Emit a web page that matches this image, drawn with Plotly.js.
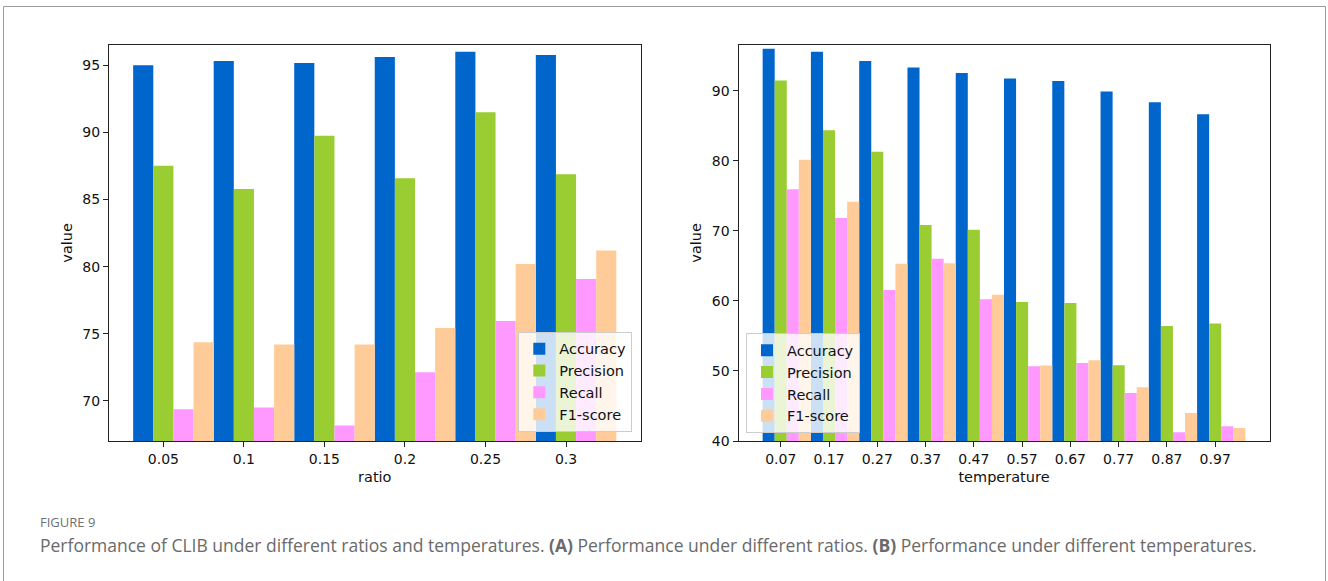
<!DOCTYPE html>
<html><head><meta charset="utf-8">
<script src="https://cdn.plot.ly/plotly-3.0.1.min.js"></script>
<style>html,body{margin:0;padding:0;background:#fff;overflow:hidden}#chart{width:1328px;height:581px}</style>
</head><body><div id="chart"></div>
<script>
// ---- data: panel A (ratio) ----
const ratios = ['0.05', '0.1', '0.15', '0.2', '0.25', '0.3'];
const ratioAccuracy = [95.0, 95.32, 95.17, 95.62, 96.02, 95.77];
const ratioPrecision = [87.51, 85.79, 89.75, 86.59, 91.51, 86.89];
const ratioRecall = [69.37, 69.5, 68.15, 72.12, 75.95, 79.07];
const ratioF1 = [74.37, 74.2, 74.2, 75.42, 80.2, 81.2];

// ---- data: panel B (temperature) ----
const temperatures = ['0.07', '0.17', '0.27', '0.37', '0.47', '0.57', '0.67', '0.77', '0.87', '0.97'];
const tempAccuracy = [95.99, 95.56, 94.23, 93.33, 92.52, 91.76, 91.38, 89.9, 88.34, 86.63];
const tempPrecision = [91.47, 84.35, 81.29, 70.83, 70.14, 59.83, 59.69, 50.81, 56.4, 56.76];
const tempRecall = [75.95, 71.83, 61.55, 66.0, 60.24, 50.68, 51.12, 46.86, 41.24, 42.1];
const tempF1 = [80.14, 74.14, 65.3, 65.38, 60.86, 50.76, 51.52, 47.67, 44.0, 41.86];

const seriesNames = ['Accuracy', 'Precision', 'Recall', 'F1-score'];
const seriesColors = ['#0066cc', '#9acd32', '#ff99ff', '#ffcc99'];
const barWidth = 0.25;
const barOffsets = [-0.375, -0.125, 0.125, 0.375];

const W = 1328, H = 581;
const px = v => v / W;
const py = v => 1 - v / H;
const FONT = 'DejaVu Sans, sans-serif';

function makeTraces(cats, seriesList, xa, ya, legendId) {
  return seriesList.map((vals, i) => ({
    type: 'bar',
    x: cats,
    y: vals,
    name: seriesNames[i],
    xaxis: xa,
    yaxis: ya,
    legend: legendId,
    width: barWidth,
    offset: barOffsets[i],
    marker: {color: seriesColors[i], line: {width: 0}},
    hoverinfo: 'x+y+name'
  }));
}

const traces = [
  ...makeTraces(ratios, [ratioAccuracy, ratioPrecision, ratioRecall, ratioF1], 'x', 'y', 'legend'),
  ...makeTraces(temperatures, [tempAccuracy, tempPrecision, tempRecall, tempF1], 'x2', 'y2', 'legend2')
];

const axisCommon = {
  showgrid: false, zeroline: false,
  showline: true, linecolor: '#222', linewidth: 1, mirror: true,
  ticks: 'outside', ticklen: 5, tickcolor: '#222', tickwidth: 1,
  tickfont: {family: FONT, size: 14, color: '#111'},
  automargin: false
};

const legendCommon = {
  bgcolor: 'rgba(255,255,255,0.8)', bordercolor: '#cccccc', borderwidth: 1,
  font: {family: FONT, size: 14.5, color: '#111'},
  itemwidth: 30, traceorder: 'normal', tracegroupgap: 0
};

const layout = {
  width: W, height: H,
  margin: {l: 0, r: 0, t: 0, b: 0},
  paper_bgcolor: '#fff', plot_bgcolor: '#fff',
  barmode: 'overlay',
  xaxis: Object.assign({}, axisCommon, {
    type: 'category', domain: [px(109), px(640.5)], range: [-0.675, 5.925], anchor: 'y',
    title: {text: 'ratio', font: {family: FONT, size: 14.5, color: '#111'}, standoff: 6}
  }),
  yaxis: Object.assign({}, axisCommon, {
    domain: [py(441), py(44.7)], range: [67, 96.54], anchor: 'x',
    tickvals: [70, 75, 80, 85, 90, 95],
    title: {text: 'value', font: {family: FONT, size: 14.5, color: '#111'}, standoff: 6}
  }),
  xaxis2: Object.assign({}, axisCommon, {
    type: 'category', domain: [px(738.5), px(1269.5)], range: [-0.875, 10.125], anchor: 'y2',
    title: {text: 'temperature', font: {family: FONT, size: 14.5, color: '#111'}, standoff: 6}
  }),
  yaxis2: Object.assign({}, axisCommon, {
    domain: [py(441), py(44.7)], range: [40, 96.57], anchor: 'x2',
    tickvals: [40, 50, 60, 70, 80, 90],
    title: {text: 'value', font: {family: FONT, size: 14.5, color: '#111'}, standoff: 6}
  }),
  legend: Object.assign({}, legendCommon, {x: px(632.3), xanchor: 'right', y: py(431.7), yanchor: 'bottom'}),
  legend2: Object.assign({}, legendCommon, {x: px(746), xanchor: 'left', y: py(433.3), yanchor: 'bottom'}),
  shapes: [{
    type: 'rect', xref: 'paper', yref: 'paper',
    x0: px(3.5), x1: px(1325.5), y0: -0.2, y1: py(6.5),
    line: {color: '#9a9a9a', width: 1}, fillcolor: 'rgba(0,0,0,0)', layer: 'below'
  }],
  annotations: [
    {text: 'FIGURE 9', xref: 'paper', yref: 'paper', x: px(38), y: py(521.5), xanchor: 'left', yanchor: 'middle',
     showarrow: false, font: {family: 'Open Sans, sans-serif', size: 13, color: '#707070'}},
    {text: 'Performance of CLIB under different ratios and temperatures. <b>(A)</b> Performance under different ratios. <b>(B)</b> Performance under different temperatures.',
     xref: 'paper', yref: 'paper', x: px(38), y: py(545), xanchor: 'left', yanchor: 'middle',
     showarrow: false, font: {family: 'Open Sans, sans-serif', size: 17.5, color: '#6a6a6a'}}
  ],
  showlegend: true
};

Plotly.newPlot('chart', traces, layout, {displayModeBar: false, staticPlot: true});
</script>
</body></html>
